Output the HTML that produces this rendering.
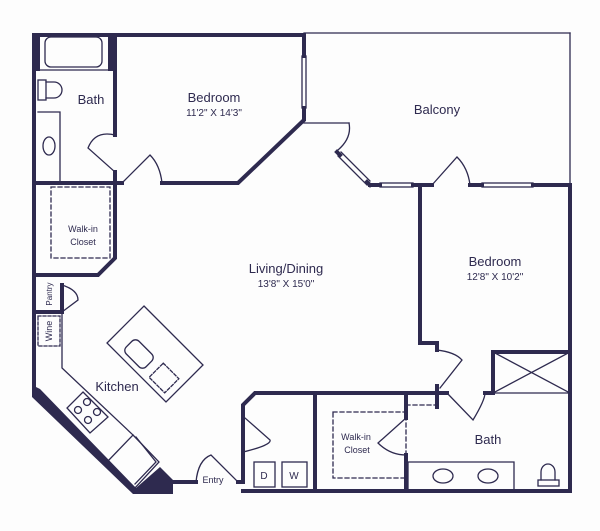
<!DOCTYPE html>
<html><head><style>
body{margin:0;background:#fdfdfd;}
svg{display:block}
text{font-family:"Liberation Sans",sans-serif;fill:#2e2a4f;text-anchor:middle}
</style></head><body>
<svg width="600" height="531" viewBox="0 0 600 531" xmlns="http://www.w3.org/2000/svg">
<g stroke="#2e2a4f" fill="none" stroke-linecap="square">
<g stroke-width="4">
<polyline points="34,35 304,35 304,56"/>
<polyline points="304,108 304,120 238,183 162,183"/>
<line x1="122" y1="183" x2="113" y2="183"/>
<polyline points="115,35 115,135"/>
<polyline points="115,172 115,258 98,275 36,275"/>
<line x1="36" y1="183" x2="115" y2="183"/>
<line x1="34" y1="35" x2="34" y2="390"/>
<polyline points="62,285 62,312 36,312"/>
<polyline points="172,482 196,482"/>
<polyline points="238,482 243,482 243,405 255,393 447,393"/>
<line x1="315" y1="393" x2="315" y2="491"/>
<polyline points="243,491 570,491 570,185 533,185"/>
<line x1="482" y1="185" x2="470" y2="185"/>
<polyline points="432,185 413,185"/>
<line x1="380" y1="185" x2="370" y2="185"/>
<polyline points="420,185 420,343 437,343 437,350"/>
<line x1="406" y1="393" x2="406" y2="418"/>
<line x1="406" y1="455" x2="406" y2="491"/>
<line x1="437" y1="386" x2="437" y2="407"/>
<polyline points="485,393 493,393 493,352 570,352"/>
<line x1="337" y1="152" x2="340" y2="155"/>
<line x1="367" y1="182" x2="370" y2="185"/>
</g>
<rect x="32" y="33" width="8" height="38" fill="#2e2a4f" stroke="none"/>
<rect x="108" y="33" width="9" height="38" fill="#2e2a4f" stroke="none"/>
<polygon points="32,385 32,397 133,494 173,494 173,480 160,467 136,488 40,389" fill="#2e2a4f" stroke="none"/>
<g stroke-width="1.3">
<line x1="304" y1="33" x2="570" y2="33"/>
<line x1="570" y1="33" x2="570" y2="185"/>
<rect x="302" y="56" width="4" height="52"/>
<rect x="45" y="37" width="57" height="30" rx="6"/>
<line x1="38" y1="70" x2="110" y2="70"/>
<rect x="38" y="80" width="8" height="20"/>
<path d="M46,82 h8 a8,8 0 0 1 0,16 h-8"/>
<polyline points="38,112 60,112 60,182"/>
<ellipse cx="49" cy="146" rx="6" ry="9"/>
<path d="M115,135 Q95,130 88,148 L115,172"/>
<path d="M122,183 L150,155 Q160,165 162,183"/>
<rect x="51" y="187" width="59" height="71" stroke-dasharray="4,3"/>
<rect x="38" y="316" width="22" height="30" stroke-dasharray="3,2"/>
<path d="M62,285 Q78,290 78,300 L62,312"/>
<polyline points="62,312 62,368 133,435"/>
<polygon points="83,392 108,417 90,433 67,408"/>
<circle cx="87" cy="402" r="3.5"/><circle cx="97" cy="412" r="3.5"/>
<circle cx="78" cy="410" r="3.5"/><circle cx="88" cy="420" r="3.5"/>
<polygon points="133,435 159,462 135,488 107,462"/>
<polyline points="136,437 156,462 135,484"/>
<polygon points="144,306 203,365 166,402 107,343"/>
<rect x="125" y="345" width="28" height="18" rx="5" transform="rotate(45 139 354)"/>
<rect x="153" y="368" width="22" height="20" stroke-dasharray="3,2" transform="rotate(45 164 378)"/>
<path d="M196,482 Q198,460 211,455 L238,482"/>
<path d="M243,452 Q272,445 270,440 L245,418"/>
<rect x="254" y="462" width="21" height="25"/>
<rect x="282" y="462" width="25" height="25"/>
<rect x="333" y="412" width="73" height="66" stroke-dasharray="4,3"/>
<line x1="406" y1="405" x2="437" y2="405" stroke-dasharray="4,3"/>
<path d="M406,418 L378,443 Q390,455 406,455"/>
<path d="M437,350 Q455,352 462,360 L440,388"/>
<path d="M447,393 L473,420 Q485,400 485,393"/>
<line x1="493" y1="352" x2="570" y2="393"/><line x1="570" y1="352" x2="493" y2="393"/>
<line x1="493" y1="393" x2="570" y2="393"/>
<polyline points="408,491 408,462 514,462 514,491"/>
<ellipse cx="443" cy="476" rx="10" ry="7"/><ellipse cx="488" cy="476" rx="10" ry="7"/>
<path d="M541,480 v-8 a7,8 0 0 1 14,0 v8"/>
<rect x="538" y="480" width="21" height="6"/>
<line x1="304" y1="123" x2="349" y2="123"/>
<path d="M349,123 Q352,138 338,150"/>
<line x1="341" y1="152" x2="370" y2="181"/><line x1="338" y1="156" x2="367" y2="185"/>
<rect x="380" y="183" width="33" height="4"/>
<rect x="482" y="183" width="51" height="4"/>
<path d="M432,185 L457,157 Q468,168 470,185"/>
</g>
</g>
<text x="91" y="104" font-size="13">Bath</text>
<text x="214" y="102" font-size="13">Bedroom</text>
<text x="214" y="116" font-size="10">11'2" X 14'3"</text>
<text x="437" y="114" font-size="13">Balcony</text>
<text x="286" y="273" font-size="13">Living/Dining</text>
<text x="286" y="287" font-size="10">13'8" X 15'0"</text>
<text x="495" y="266" font-size="13">Bedroom</text>
<text x="495" y="280" font-size="10">12'8" X 10'2"</text>
<text x="83" y="232" font-size="9">Walk-in</text>
<text x="83" y="245" font-size="9">Closet</text>
<text x="117" y="391" font-size="13">Kitchen</text>
<text x="213" y="483" font-size="9">Entry</text>
<text x="264" y="479" font-size="10">D</text>
<text x="294" y="479" font-size="10">W</text>
<text x="356" y="440" font-size="9">Walk-in</text>
<text x="357" y="453" font-size="9">Closet</text>
<text x="488" y="444" font-size="13">Bath</text>
<text x="0" y="0" font-size="8" transform="translate(52,294) rotate(-90)">Pantry</text>
<text x="0" y="0" font-size="9" transform="translate(52,331) rotate(-90)">Wine</text>
</svg>
</body></html>
